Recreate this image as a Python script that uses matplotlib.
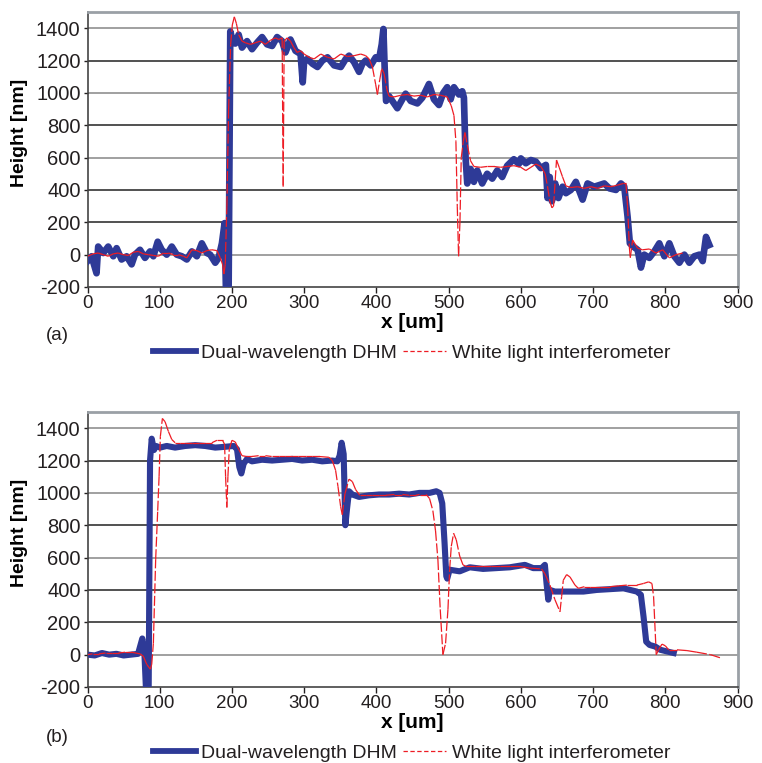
import numpy as np
import matplotlib
matplotlib.use('Agg')
import matplotlib.pyplot as plt
from matplotlib import font_manager
from matplotlib.collections import LineCollection
from matplotlib.lines import Line2D

# ---- panel (a): step profile, noisy DHM ----
a_dhm_x = [0, 5.6, 12.5, 14.8, 21.8, 28.7, 35.7, 40.3, 47.2, 54.2, 61.1, 65.7, 72.7, 79.6,
           86.6, 91.2, 97.2, 102.8, 109.7, 116.7, 123.6, 130.6, 137.5, 144.5, 151.4, 158.3,
           165.3, 169.9, 176.9, 181.5, 186.1, 189.8, 191.7, 195.4, 196.8, 197.7, 200, 204.6,
           209.3, 213.9, 220.9, 227.8, 234.7, 241.7, 248.6, 255.6, 262.5, 269.5, 274.1, 281,
           288, 295, 298, 300, 304.6, 311.5, 318.4, 325.3, 332.3, 341.5, 350.7, 357.6, 362.2,
           369.1, 376, 380.6, 385.2, 392.2, 399.1, 403.7, 407.4, 409.7, 411.5, 413.4, 417.5,
           422.1, 429, 435.9, 440.5, 447.5, 456.7, 463.6, 472.8, 479.7, 486.6, 492.6, 498.1,
           502.8, 507.4, 514.3, 518.9, 521.2, 523.5, 525.8, 530.4, 535, 539.6, 546.5, 553.4,
           560.4, 567.3, 574.2, 581.1, 590.3, 597.2, 600, 606.9, 613.9, 620.8, 627.7, 634.7,
           637, 640, 643, 647.6, 652, 657.8, 662.4, 669.3, 676.2, 685.5, 692.4, 701.6, 708.6,
           715.5, 722.4, 731.7, 738.6, 743.2, 747.8, 751, 755.7, 761.7, 766.3, 770.9, 777.9,
           784.8, 791.7, 798.7, 805.6, 812.5, 819.5, 826.4, 833.3, 840.2, 847.2, 851.8, 856.4,
           861]
a_dhm_y = [-40, -10, -115, 50, 10, 50, -10, 40, -30, -10, -60, 0, 30, -20,
           20, -10, 80, 30, 0, 50, 0, -10, -30, 20, -10, 70,
           10, 0, -50, -20, 70, 195, -220, -220, 800, 1380, 1340, 1305,
           1360, 1280, 1320, 1270, 1310, 1345, 1300, 1290, 1345, 1320, 1250, 1330,
           1260, 1240, 1065, 1200, 1210, 1180, 1160, 1200, 1220, 1170, 1160, 1210, 1230,
           1190, 1130, 1180, 1200, 1170, 1220, 1210, 1300, 1395, 1150, 950, 980,
           950, 905, 960, 995, 950, 935, 970, 1055, 960, 925, 1000, 1035,
           960, 1035, 990, 1010, 970, 600, 440, 530, 450, 520, 440, 500,
           470, 520, 480, 550, 590, 560, 595, 565, 585, 575, 535, 555,
           350, 480, 330, 440, 350, 420, 380, 400, 450, 340, 440, 420, 430,
           440, 410, 400, 440, 420, 235, 70, 50, 30, -80, 0, -20,
           20, 70, -10, 70, -10, -50, 0, -50, -10, 0, -40, 110,
           60]

a_wli_x = [0, 7.9, 14.8, 21.8, 28.7, 35.7, 42.6, 49.5, 56.5, 63.4, 70.4, 77.3, 84.3, 91.2,
           98.2, 105.1, 112, 119, 125.9, 132.9, 137.5, 144.5, 151.4, 158.3, 165.3, 172.2,
           179.2, 183.8, 187, 188.9, 190.7, 193, 195.4, 198.2, 200.5, 203.3, 206.1, 209.3,
           213.9, 218.5, 225.5, 232.4, 239.4, 246.3, 253.3, 260.2, 264.8, 269.5, 270.9, 272.3,
           276.4, 281, 285.7, 290.3, 295, 300, 306.9, 313.8, 323, 332.3, 341.5, 350.7, 359.9,
           369.1, 378.3, 385.2, 389.9, 394.5, 399.1, 401.4, 404.6, 407.4, 410.6, 414.5, 417.5,
           424.4, 433.6, 442.8, 452, 461.3, 470.5, 479.7, 488.9, 498.1, 503.7, 507.4, 510.1,
           512, 513.8, 515.7, 517.5, 520.3, 522.6, 525.8, 530.4, 535, 544.2, 553.4, 562.7,
           571.9, 581.1, 590.3, 600, 606.9, 613.9, 620.8, 627.7, 633.7, 637, 640.2, 643,
           645.3, 647.6, 649.4, 653.1, 657.8, 662.4, 669.3, 678.5, 687.8, 697, 706.3, 715.5,
           724.7, 734, 741.8, 745.5, 747.8, 750.2, 751.5, 754.8, 761.7, 768.6, 777.9, 787.1,
           796.4, 805.6, 814.8, 824.1]
a_wli_y = [-10, 5, 10, 0, -10, 5, 10, 0, -5, 15, 20, 5, 0, -5,
           -10, 10, 10, 0, 0, -10, -20, 30, 25, 10, 25, 30,
           25, -20, -60, -120, -60, 300, 900, 1300, 1420, 1470, 1430, 1360,
           1320, 1310, 1300, 1310, 1320, 1300, 1325, 1340, 1330, 1340, 420, 1320,
           1340, 1320, 1280, 1250, 1260, 1240, 1220, 1210, 1240, 1220, 1210, 1240, 1225,
           1230, 1240, 1230, 1210, 1160, 1050, 990, 1080, 1150, 1120, 1020, 980,
           975, 985, 990, 980, 985, 975, 990, 985, 975, 920, 860, 700,
           300, -10, 200, 600, 700, 755, 680, 580, 545, 540, 545, 545,
           540, 545, 550, 540, 520, 540, 560, 545, 500, 420, 330, 290,
           300, 460, 585, 540, 480, 425, 415, 420, 410, 420, 410, 425,
           420, 430, 440, 440, 300, 50, -20, 90, 40, 30, 35, 10,
           30, -20, 0, 10]

# ---- panel (b): step profile, filtered DHM ----
b_dhm_x = [0, 10, 20, 30, 40, 50, 60, 70, 75.9, 78.7, 81, 84.7, 86.6, 88.9, 92.1, 94.9,
           100.5, 109.7, 121.3, 135.2, 149.1, 163, 176.9, 190.8, 202.3, 207, 210.2, 213,
           216.2, 220.9, 227.8, 241.7, 255.6, 269.5, 283.4, 297.2, 311.1, 325, 338.9, 345.9,
           349.1, 351.9, 354.7, 357, 359.3, 362.1, 366.7, 376, 389.8, 403.7, 417.6, 431.5,
           445.4, 459.7, 473.6, 482.9, 487.5, 491.2, 494.4, 496.8, 498.1, 501.4, 515.3, 529.2,
           547.7, 566.2, 584.7, 605.6, 617.1, 628.7, 633.3, 635.6, 638, 640.3, 647.2, 663.4,
           686.6, 705.1, 723.6, 742.1, 751.4, 760.6, 766.2, 769.9, 773.6, 778.2, 786.1, 793.1,
           802.3, 811.6]
b_dhm_y = [0, -5, 10, 0, 5, -5, 0, 5, 100, 20, -220, -220, 1200, 1335, 1265, 1290,
           1280, 1290, 1280, 1290, 1295, 1290, 1280, 1285, 1290, 1270, 1160, 1120,
           1180, 1210, 1195, 1205, 1200, 1205, 1210, 1200, 1205, 1195, 1200, 1195,
           1230, 1310, 1240, 800, 900, 1010, 990, 975, 985, 990, 990, 995,
           990, 1000, 1000, 1010, 1000, 935, 690, 485, 470, 525, 515, 540,
           530, 535, 540, 555, 535, 535, 555, 440, 340, 400, 390, 390,
           390, 400, 405, 410, 400, 390, 370, 235, 80, 60, 50, 30,
           20, 10]

b_wli_x = [0, 7, 16, 25, 34, 43, 52, 61, 72.7, 77.3, 82, 87, 88.9, 91.2, 94.4, 97.2, 99.1,
           100.9, 103.7, 107.4, 112, 116.7, 121.3, 128, 135.2, 144, 153.7, 163, 172.2, 179.2,
           187, 189.8, 191.2, 193, 194.4, 196.3, 200, 204.6, 209.3, 213.9, 220, 227.8, 237,
           246.3, 255, 264.8, 274, 283.4, 292, 301.9, 311, 320.4, 334.3, 338.9, 343.5, 346.8,
           350.5, 352.8, 356.5, 362.1, 366.7, 371.3, 376.9, 385, 394.5, 404, 413, 425, 436.1,
           445, 454.7, 459.7, 469, 473.6, 478.2, 481.9, 485.2, 488.4, 492.1, 495.8, 499.1,
           501.4, 503.7, 506.9, 510.6, 515.3, 519.9, 524.5, 536, 547.7, 559, 570.8, 585,
           598.6, 612.5, 628.7, 633.3, 640.3, 647.2, 654.2, 656.5, 658.8, 663.4, 668.1, 675,
           679.6, 688, 695.8, 710, 723.6, 735, 746.8, 760.7, 769.9, 776.9, 781.5, 783.8,
           787.5, 790.7, 795.4, 800, 804.7, 816.2, 830.1, 843.9, 862.5, 876.4]
b_wli_y = [0, 5, 5, 10, 10, 10, 15, 15, 5, -10, -60, -90, -60, 70, 590, 890, 1100,
           1350, 1460, 1440, 1380, 1330, 1310, 1310, 1310, 1310, 1310, 1310, 1310, 1325,
           1325, 1300, 1100, 910, 1100, 1270, 1325, 1315, 1270, 1230, 1225, 1225, 1230,
           1230, 1225, 1225, 1225, 1225, 1225, 1225, 1225, 1225, 1220, 1200, 1140, 1040,
           915, 865, 995, 1085, 1070, 1020, 985, 985, 985, 985, 985, 990, 990,
           985, 985, 990, 990, 965, 890, 765, 585, 280, 0, 70, 280,
           525, 670, 750, 710, 610, 555, 545, 545, 545, 545, 545, 545,
           545, 535, 530, 500, 430, 340, 265, 360, 460, 495, 480, 430,
           410, 420, 420, 420, 420, 425, 430, 430, 440, 450, 440, 360,
           0, 30, 65, 55, 30, 30, 25, 15, 0, -20]

y_ticks = [-200, 0, 200, 400, 600, 800, 1000, 1200, 1400]
x_ticks = [0, 100, 200, 300, 400, 500, 600, 700, 800, 900]
labels = ['Dual-wavelength DHM', 'White light interferometer']

BLUE = '#2e3a97'
RED = '#ee1c24'

names = {f.name for f in font_manager.fontManager.ttflist}
narrow = 'Liberation Sans Narrow' if 'Liberation Sans Narrow' in names else 'Liberation Sans'
plt.rcParams['font.family'] = ['Liberation Sans', 'DejaVu Sans']

fig = plt.figure(figsize=(7.62, 7.63), dpi=100)


def draw_panel(ax, dx, dy, wx, wy, tag, tag_y, leg_y, blue_lw):
    ax.plot(dx, dy, color=BLUE, lw=blue_lw, solid_joinstyle='round', zorder=3)
    # dashes restart on every segment, like the original spreadsheet chart
    pts = np.column_stack([wx, wy])
    segs = np.stack([pts[:-1], pts[1:]], axis=1)
    ax.add_collection(LineCollection(segs, colors=RED, linewidths=0.9,
                                     linestyles=[(0, (8, 2))], zorder=4))

    ax.set_xlim(0, 900)
    ax.set_ylim(-200, 1500)
    ax.set_xticks(x_ticks)
    ax.set_yticks(y_ticks)
    ax.set_xticklabels([str(t) for t in x_ticks], fontfamily=narrow, fontsize=13.5)
    ax.set_yticklabels([str(t) for t in y_ticks], fontsize=14.5)
    ax.tick_params(axis='x', direction='out', length=4, width=1, color='#444444', pad=1.5)
    ax.tick_params(axis='y', direction='out', length=3, width=1, color='#444444', pad=2)
    ax.tick_params(colors='#231f20', which='both', labelcolor='#231f20')

    ax.grid(axis='y', lw=1.2, zorder=1)
    grid_cols = ['#444444', '#909090', '#333333', '#333333', '#909090',
                 '#333333', '#909090', '#333333', '#909090']
    for gl, c in zip(ax.get_ygridlines(), grid_cols):
        gl.set_color(c)
    ax.get_ygridlines()[0].set_visible(False)

    for s in ('left', 'bottom'):
        ax.spines[s].set_color('#444444')
        ax.spines[s].set_linewidth(1.2)
    for s in ('top', 'right'):
        ax.spines[s].set_color('#9aa0a6')
        ax.spines[s].set_linewidth(2)

    ax.set_xlabel('x [um]', fontfamily=narrow, fontweight='bold', fontsize=15)
    ax.xaxis.set_label_coords(0.5, -0.128)
    ax.xaxis.label.set_va('center')
    ax.set_ylabel('Height [nm]', fontweight='bold', fontsize=14)
    ax.yaxis.set_label_coords(-0.104, 0.56)
    ax.yaxis.label.set_va('center')

    fig.text(0.075, tag_y, tag, fontfamily=narrow, fontsize=13.5,
             ha='center', va='center', color='#231f20')

    handles = [Line2D([], [], color=BLUE, lw=4.2),
               Line2D([], [], color=RED, lw=0.9, ls=(0, (3.5, 2)))]
    ax.legend(handles, labels, loc='center', bbox_to_anchor=(0.54, leg_y),
              bbox_transform=fig.transFigure, ncol=2, frameon=False,
              fontsize=14, handlelength=2.2, handletextpad=0.3, columnspacing=0.3,
              labelcolor='#231f20')


ax_a = fig.add_axes([87.5 / 762, 1 - 287 / 763, 650 / 762, 275 / 763])
draw_panel(ax_a, a_dhm_x, a_dhm_y, a_wli_x, a_wli_y, '(a)', 1 - 335 / 763, 1 - 353 / 763, 4.8)

ax_b = fig.add_axes([87.5 / 762, 1 - 687 / 763, 650 / 762, 275 / 763])
draw_panel(ax_b, b_dhm_x, b_dhm_y, b_wli_x, b_wli_y, '(b)', 1 - 737 / 763, 1 - 753 / 763, 4.4)

fig.savefig('out.png', dpi=100, facecolor='white')
